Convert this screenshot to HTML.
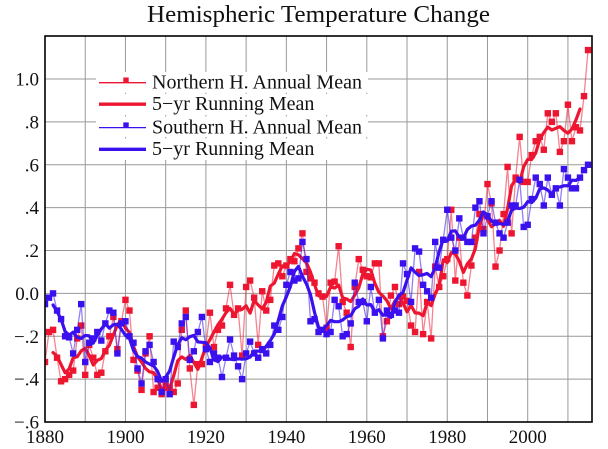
<!DOCTYPE html>
<html>
<head>
<meta charset="utf-8">
<style>
html,body{margin:0;padding:0;background:#fff;}
svg{display:block;}
text{font-family:"Liberation Serif","Times New Roman",serif;fill:#111;}
</style>
</head>
<body>
<svg id="c" width="608" height="449" viewBox="0 0 608 449" xmlns="http://www.w3.org/2000/svg">
<rect x="0" y="0" width="608" height="449" fill="#fff"/>
<text x="147" y="22" font-size="24" font-family="Liberation Serif, serif" textLength="343" lengthAdjust="spacingAndGlyphs">Hemispheric Temperature Change</text>
<defs><clipPath id="pc"><rect x="45" y="36" width="547" height="386"/></clipPath></defs>
<g id="grid" stroke="#999" stroke-width="1" fill="none"></g>
<g id="legbg" fill="#fff"></g>
<g id="series" clip-path="url(#pc)"></g>
<g id="legend"></g>
<rect x="45" y="36" width="547" height="386" fill="none" stroke="#000" stroke-width="1.6"/>
<g id="labels"></g>
</svg>
<script>
(function(){
var NS="http://www.w3.org/2000/svg";
var FF="Liberation Serif, Times New Roman, serif";
function el(p,t,a,txt){var e=document.createElementNS(NS,t);for(var k in a)e.setAttribute(k,a[k]);if(txt!=null)e.textContent=txt;p.appendChild(e);return e;}
function X(yr){return 45+(yr-1880)*4.0225;}
function Y(v){return 293.4-214.4*v;}
var NH=[-0.32,-0.18,-0.17,-0.30,-0.41,-0.40,-0.38,-0.36,-0.21,-0.15,
-0.38,-0.24,-0.30,-0.38,-0.37,-0.27,-0.20,-0.11,-0.26,-0.13,
-0.03,-0.08,-0.31,-0.36,-0.45,-0.28,-0.20,-0.46,-0.44,-0.47,
-0.43,-0.44,-0.46,-0.42,-0.17,-0.08,-0.35,-0.52,-0.33,-0.33,
-0.24,-0.09,-0.25,-0.17,-0.15,-0.07,0.04,-0.10,-0.07,-0.29,
0.03,0.06,-0.02,-0.24,0.01,-0.08,-0.03,0.13,0.14,0.08,
0.13,0.16,0.15,0.21,0.28,0.10,0.07,0.05,0.00,-0.015,
-0.16,0.05,0.055,0.22,-0.04,-0.09,-0.25,0.03,0.16,0.11,
0.08,0.075,0.14,0.14,-0.20,-0.13,-0.01,0.03,-0.05,-0.015,
-0.035,-0.15,-0.18,0.10,-0.19,-0.04,-0.21,0.125,0.03,0.08,
0.16,0.39,0.06,0.26,0.05,-0.01,0.13,0.26,0.37,0.30,
0.51,0.42,0.125,0.20,0.37,0.59,0.28,0.54,0.73,0.52,
0.52,0.645,0.71,0.73,0.67,0.84,0.80,0.84,0.66,0.71,
0.88,0.71,0.775,0.76,0.92,1.135];
var SH=[-0.05,-0.02,0.00,-0.08,-0.12,-0.20,-0.205,-0.28,-0.17,-0.05,
-0.32,-0.23,-0.21,-0.18,-0.22,-0.14,-0.08,-0.09,-0.28,-0.14,
-0.13,-0.20,-0.23,-0.35,-0.42,-0.27,-0.24,-0.32,-0.40,-0.46,
-0.40,-0.47,-0.225,-0.25,-0.14,-0.11,-0.31,-0.27,-0.18,-0.11,
-0.26,-0.32,-0.28,-0.30,-0.39,-0.30,-0.215,-0.29,-0.34,-0.40,
-0.28,-0.225,-0.28,-0.30,-0.26,-0.28,-0.24,-0.15,-0.17,-0.11,
0.04,0.10,0.06,0.07,0.24,0.16,-0.13,-0.12,-0.18,-0.17,
-0.19,-0.18,-0.03,-0.06,-0.20,-0.19,-0.14,0.05,-0.04,-0.04,
-0.13,0.03,-0.09,-0.03,-0.21,-0.08,-0.10,-0.08,-0.09,0.14,
0.09,-0.04,0.21,0.195,0.04,0.01,-0.02,0.24,0.12,0.25,
0.39,0.26,0.20,0.35,0.26,0.24,0.24,0.40,0.43,0.28,
0.36,0.43,0.33,0.28,0.26,0.33,0.41,0.41,0.53,0.31,
0.32,0.44,0.54,0.51,0.41,0.54,0.46,0.49,0.41,0.58,
0.54,0.49,0.49,0.54,0.575,0.60];

var grid=document.getElementById('grid');
for(var yr=1890;yr<=2010;yr+=10){var x=X(yr);el(grid,'line',{x1:x,y1:36,x2:x,y2:422});}
for(var k=-2;k<=5;k++){var y=Y(k*0.2);el(grid,'line',{x1:45,y1:y,x2:592,y2:y});}

var lb=document.getElementById('legbg');
[[72,20.7],[94,21],[116.5,20.5],[138.5,21.5]].forEach(function(r){el(lb,'rect',{x:96,y:r[0],width:272,height:r[1]});});

var S=document.getElementById('series');
function pts(arr){var s=[];for(var i=0;i<arr.length;i++)s.push(X(1880+i).toFixed(2)+','+Y(arr[i]).toFixed(2));return s.join(' ');}
function rm(arr){var s=[];for(var i=2;i<arr.length-2;i++){var m=(arr[i-2]+arr[i-1]+arr[i]+arr[i+1]+arr[i+2])/5;s.push(X(1880+i).toFixed(2)+','+Y(m).toFixed(2));}return s.join(' ');}
function markers(arr,col){for(var i=0;i<arr.length;i++){el(S,'rect',{x:(X(1880+i)-3.2).toFixed(2),y:(Y(arr[i])-3.2).toFixed(2),width:6.4,height:6.4,fill:col});}}

var RED='#ee1530', BLUE='#3a10ee';
el(S,'polyline',{points:pts(NH),fill:'none',stroke:'rgba(240,30,55,0.55)','stroke-width':1.3,'stroke-linejoin':'round'});
markers(NH,RED);
el(S,'polyline',{points:rm(NH),fill:'none',stroke:RED,'stroke-width':3.2,'stroke-linejoin':'round','stroke-linecap':'round'});
el(S,'polyline',{points:pts(SH),fill:'none',stroke:'rgba(60,20,240,0.55)','stroke-width':1.3,'stroke-linejoin':'round'});
markers(SH,BLUE);
el(S,'polyline',{points:rm(SH),fill:'none',stroke:BLUE,'stroke-width':3.2,'stroke-linejoin':'round','stroke-linecap':'round'});

var L=document.getElementById('legend');
var rows=[
 {y:82.7,col:RED,w:1.3,m:true,t:'Northern H. Annual Mean'},
 {y:104.2,col:RED,w:3.4,m:false,t:'5\u2212yr Running Mean'},
 {y:127.6,col:BLUE,w:1.3,m:true,t:'Southern H. Annual Mean'},
 {y:149.3,col:BLUE,w:3.4,m:false,t:'5\u2212yr Running Mean'}];
rows.forEach(function(r){
 el(L,'line',{x1:99,y1:r.y,x2:146,y2:r.y,stroke:r.col,'stroke-width':r.w});
 if(r.m) el(L,'rect',{x:123.3,y:r.y-5.2,width:5.4,height:5.4,fill:r.col});
 el(L,'text',{x:152,y:r.y+5.7,'font-size':20,'font-family':FF},r.t);
});

var LB=document.getElementById('labels');
[1880,1900,1920,1940,1960,1980,2000].forEach(function(yr){
 el(LB,'text',{x:X(yr),y:443,'text-anchor':'middle','font-size':19,'font-family':FF},String(yr));
});
var yl=[[1.0,'1.0'],[0.8,'.8'],[0.6,'.6'],[0.4,'.4'],[0.2,'.2'],[0,'0.0'],[-0.2,'\u2212.2'],[-0.4,'\u2212.4'],[-0.6,'\u2212.6']];
yl.forEach(function(p){
 el(LB,'text',{x:39,y:Y(p[0])+6.5,'text-anchor':'end','font-size':19,'font-family':FF},p[1]);
});
})();
</script>
</body>
</html>
